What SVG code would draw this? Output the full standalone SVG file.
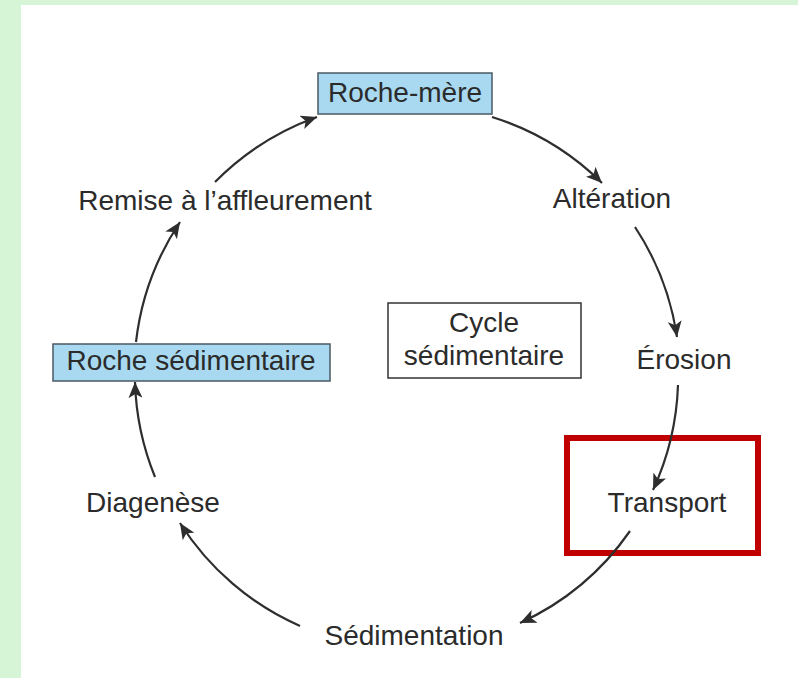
<svg xmlns="http://www.w3.org/2000/svg" width="798" height="678" viewBox="0 0 798 678">
<style>
.t{font-family:"Liberation Sans",Arial,sans-serif;font-size:28px;fill:#2b2b2b;text-anchor:middle}
.blue{fill:#a8d9f0;stroke:#4a5a63;stroke-width:1.5}
.conn{fill:none;stroke:#2e2e2e;stroke-width:2.2;marker-end:url(#ah)}
</style>
<defs>
<marker id="ah" markerUnits="userSpaceOnUse" markerWidth="18" markerHeight="14" refX="16" refY="7" orient="auto">
<path d="M0,0 L16,7 L0,14 L4,7 z" fill="#2e2e2e"/>
</marker>
</defs>
<rect x="0" y="0" width="798" height="678" fill="#d6f5d6"/>
<rect x="21" y="5" width="777" height="673" fill="#ffffff"/>
<g id="roche-mere">
<rect class="blue" x="318" y="73" width="174" height="41"/>
<text class="t" x="405" y="102">Roche-mère</text>
</g>
<g id="alteration"><text class="t" x="612" y="208">Altération</text></g>
<g id="erosion"><text class="t" x="684" y="369">Érosion</text></g>
<g id="transport">
<rect x="567" y="438" width="191" height="115" fill="none" stroke="#c00000" stroke-width="6"/>
<text class="t" x="667" y="512">Transport</text>
</g>
<g id="sedimentation"><text class="t" x="414" y="645">Sédimentation</text></g>
<g id="diagenese"><text class="t" x="153" y="512">Diagenèse</text></g>
<g id="roche-sedimentaire">
<rect class="blue" x="53" y="344" width="277" height="37"/>
<text class="t" x="191" y="370">Roche sédimentaire</text>
</g>
<g id="remise"><text class="t" x="225" y="210">Remise à l’affleurement</text></g>
<g id="cycle">
<rect x="388" y="303" width="193" height="75" fill="#ffffff" stroke="#333" stroke-width="1.5"/>
<text class="t" x="484" y="332">Cycle</text>
<text class="t" x="484" y="365">sédimentaire</text>
</g>
<g id="connectors">
<path class="conn" d="M215,182 A272,272 0 0 1 317,117"/>
<path class="conn" d="M492,117 A272,272 0 0 1 602,183"/>
<path class="conn" d="M635,227 A272,272 0 0 1 677,337"/>
<path class="conn" d="M678,385 A272,272 0 0 1 653,490"/>
<path class="conn" d="M630,531 A272,272 0 0 1 520,623"/>
<path class="conn" d="M300,626 A272,272 0 0 1 180,523"/>
<path class="conn" d="M155,477 A272,272 0 0 1 135,382"/>
<path class="conn" d="M136,342 A272,272 0 0 1 180,222"/>
</g>
</svg>
